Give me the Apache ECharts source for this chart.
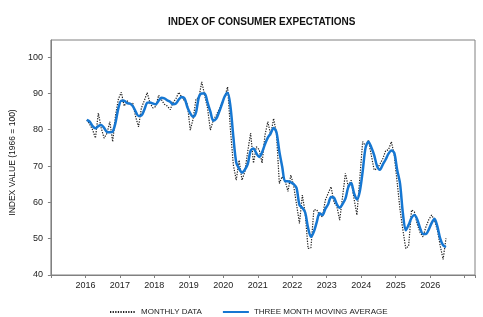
<!DOCTYPE html>
<html>
<head>
<meta charset="utf-8">
<script src="https://cdn.jsdelivr.net/npm/echarts@6/dist/echarts.min.js"></script>
<style>
  html, body { margin: 0; padding: 0; background: #fff; }
  #chart { width: 483px; height: 317px; }
</style>
</head>
<body>
<div id="chart"></div>
<script>
// monthly index values, Jan 2016 .. Jun 2026
const startYear = 2016;

const monthlyData = [
  82.7, 81.5, 80.0, 77.7, 84.6, 80.5, 77.7, 79.0, 82.2, 76.7, 84.0, 88.5, // 2016
  90.3, 86.5, 88.0, 87.0, 87.3, 83.5, 80.8, 86.0, 88.0, 90.2, 87.3, 86.0, // 2017
  86.4, 89.5, 88.2, 87.0, 86.5, 85.5, 87.5, 88.5, 90.3, 89.0, 88.0, 87.0, // 2018
  79.9, 83.0, 88.5, 88.8, 93.2, 89.5, 86.0, 79.9, 82.6, 84.0, 85.5, 87.5, // 2019
  89.0, 91.8, 79.8, 70.3, 66.1, 71.6, 66.1, 68.5, 74.0, 79.1, 70.8, 75.3, // 2020
  74.5, 70.8, 78.5, 82.2, 78.5, 83.1, 79.0, 65.2, 67.1, 66.0, 63.0, 67.5, // 2021
  64.5, 59.4, 54.2, 62.0, 57.0, 47.3, 47.5, 57.9, 58.0, 56.5, 56.0, 60.6, // 2022
  62.5, 64.3, 60.0, 59.0, 55.1, 61.5, 68.0, 64.3, 66.1, 61.0, 56.5, 66.6, // 2023
  76.7, 75.5, 77.2, 73.0, 68.9, 69.3, 70.5, 72.0, 74.2, 74.5, 76.7, 73.0, // 2024
  65.6, 58.1, 52.4, 47.3, 48.0, 57.9, 57.4, 54.0, 51.7, 50.5, 53.2, 55.2, // 2025
  56.5, 55.1, 52.4, 48.0, 44.3, 50.1                                      // 2026
];

const movingAvg = [
  82.7, 82.2, 81.0, 80.4, 81.0, 81.3, 80.5, 79.4, 79.3, 79.5, 82.0, 86.0, // 2016
  88.0, 88.0, 87.3, 87.2, 86.5, 85.0, 83.8, 83.9, 85.5, 87.4, 87.5, 87.2, // 2017
  87.0, 88.0, 88.8, 88.6, 88.1, 87.7, 87.0, 87.2, 88.3, 89.0, 88.6, 86.2, // 2018
  84.5, 83.6, 84.8, 89.0, 90.0, 90.0, 87.5, 85.0, 82.5, 83.0, 84.8, 87.0, // 2019
  89.2, 90.2, 86.3, 78.0, 71.0, 69.3, 68.2, 69.0, 70.5, 74.2, 74.8, 73.5, // 2020
  72.5, 73.8, 76.0, 77.8, 79.0, 80.5, 79.3, 74.0, 69.8, 65.8, 65.8, 65.5, // 2021
  65.0, 63.9, 59.3, 58.5, 57.2, 53.0, 50.5, 51.9, 54.5, 57.0, 56.5, 58.2, // 2022
  59.5, 61.5, 61.3, 59.5, 58.5, 59.5, 61.0, 64.2, 65.3, 62.5, 60.8, 63.0, // 2023
  68.5, 75.0, 76.7, 75.2, 73.0, 70.0, 69.0, 70.4, 71.8, 73.4, 74.3, 73.6, // 2024
  69.0, 65.2, 57.0, 52.3, 53.8, 55.7, 56.5, 55.3, 52.9, 51.3, 51.3, 52.5, // 2025
  54.3, 55.5, 53.4, 50.0, 48.2, 47.7                                      // 2026
];

const yearLabels = [2016, 2017, 2018, 2019, 2020, 2021, 2022, 2023, 2024, 2025, 2026];
const seriesNames = ["MONTHLY DATA", "THREE MONTH MOVING AVERAGE"];

// place each month at mid-month on a year scale
const toPoints = arr => arr.map((v, i) => [startYear + (i + 0.5) / 12, v]);

const font = "Liberation Sans, Arial, sans-serif";
const axisGray = "#808080";

const chart = echarts.init(document.getElementById("chart"));

const option = {
  animation: false,
  textStyle: { fontFamily: font },
  title: {
    text: "INDEX OF CONSUMER EXPECTATIONS",
    left: 163,
    top: 12,
    textStyle: { fontSize: 10, fontWeight: "bold", color: "#111", fontFamily: font }
  },
  legend: {
    data: seriesNames,
    left: 104,
    top: 303,
    itemWidth: 26,
    itemHeight: 10,
    itemGap: 20,
    itemStyle: { opacity: 0 },
    textStyle: { fontSize: 8, color: "#222", fontFamily: font }
  },
  grid: {
    left: 40,
    right: 8,
    top: 40,
    bottom: 42,
    show: true,
    borderColor: axisGray,
    borderWidth: 1
  },
  xAxis: {
    type: "value",
    min: 2015,
    max: 2027.3,
    interval: 1,
    axisLine: { lineStyle: { color: axisGray } },
    axisTick: { length: 3, lineStyle: { color: axisGray } },
    splitLine: { show: false },
    axisLabel: {
      fontSize: 9,
      color: "#222",
      margin: 6,
      formatter: v => (yearLabels.indexOf(v) >= 0 ? String(v) : "")
    }
  },
  yAxis: {
    type: "value",
    min: 40,
    max: 104.7,
    interval: 10,
    name: "INDEX VALUE (1966 = 100)",
    nameLocation: "middle",
    nameGap: 27,
    nameTextStyle: { fontSize: 8.5, color: "#111", fontFamily: font, padding: [0, 10, 0, 0] },
    axisLine: { show: true, lineStyle: { color: axisGray } },
    axisTick: { show: true, length: 3, lineStyle: { color: axisGray } },
    splitLine: { show: false },
    axisLabel: {
      fontSize: 9,
      color: "#222",
      showMaxLabel: false,
      formatter: v => (v % 10 === 0 ? String(v) : "")
    }
  },
  series: [
    {
      name: seriesNames[0],
      type: "line",
      data: toPoints(monthlyData),
      symbol: "none",
      lineStyle: { color: "#222", width: 1.2, type: [1.3, 1.3] },
      itemStyle: { color: "#222" },
      z: 2
    },
    {
      name: seriesNames[1],
      type: "line",
      data: toPoints(movingAvg),
      symbol: "none",
      smooth: 0.3,
      lineStyle: { color: "#1677d2", width: 2.5 },
      itemStyle: { color: "#1677d2" },
      z: 3
    }
  ]
};

chart.setOption(option);
</script>
</body>
</html>
